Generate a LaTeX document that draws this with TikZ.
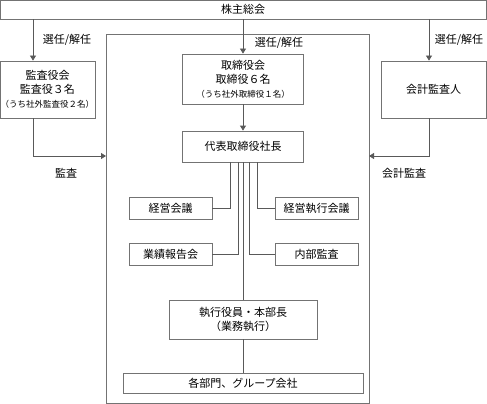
\documentclass[tikz,border=0pt]{standalone}
\usepackage{fontspec}
\setmainfont{Noto Sans CJK JP}
\usetikzlibrary{arrows.meta}

\begin{document}
\begin{tikzpicture}
  [x=1pt,y=-1pt,
   every node/.style={font=\fontsize{11}{14}\selectfont,align=center,inner sep=0pt},
   box/.style={draw=black!55,line width=0.8pt},
   line/.style={draw=black!65,line width=0.8pt},
   arr/.style={line,-{Triangle[length=5pt,width=6pt]}}]
  \useasboundingbox (0,0) rectangle (487,404);
  \node[box,minimum width=263,minimum height=369] (waku) at (237.5,218.5) {};
  \node[box,minimum width=486,minimum height=19] (kabu) at (243,9.5) {株主総会};
  \node[box,minimum width=95,minimum height=57] (kansa) at (47.5,89.5)
    {監査役会\\監査役３名\\{\fontsize{8.5}{10}\selectfont（うち社外監査役２名）}};
  \node[box,minimum width=105,minimum height=57] (kaikei) at (433.5,89.5) {会計監査人};
  \node[box,minimum width=121,minimum height=50] (tori) at (243,79)
    {取締役会\\取締役６名\\{\fontsize{8.5}{10}\selectfont（うち社外取締役１名）}};
  \node[box,minimum width=121,minimum height=31] (daihyo) at (243,146.5) {代表取締役社長};
  \node[box,minimum width=83,minimum height=22] (keiei) at (170.5,208) {経営会議};
  \node[box,minimum width=83,minimum height=22] (gyoseki) at (170.5,254.5) {業績報告会};
  \node[box,minimum width=83,minimum height=22] (kshikko) at (316.5,208) {経営執行会議};
  \node[box,minimum width=83,minimum height=22] (naibu) at (316.5,254.5) {内部監査};
  \node[box,minimum width=148,minimum height=39] (shikko) at (243,319.5)
    {執行役員・本部長\\（業務執行）};
  \node[box,minimum width=240,minimum height=20] (kakubu) at (243,383) {各部門、グループ会社};

  \coordinate (lx) at (33,0);
  \coordinate (rx) at (429,0);
  \coordinate (ka) at (106,156);
  \coordinate (kb) at (369,156);
  \coordinate (c1) at (230,0);
  \coordinate (c2) at (238,0);
  \coordinate (c4) at (249,0);
  \coordinate (c5) at (257,0);

  \draw[arr] (kabu.south -| lx) -- (kansa.north -| lx);
  \draw[arr] (kabu.south -| rx) -- (kaikei.north -| rx);
  \draw[arr] (kabu.south) -- (tori.north);
  \draw[arr] (tori) -- (daihyo);
  \draw[arr] (kansa.south -| lx) |- (ka);
  \draw[arr] (kaikei.south -| rx) |- (kb);
  \foreach \from/\to in {c1/keiei.east,c2/gyoseki.east,c4/naibu.west,c5/kshikko.west}
    \draw[line] (daihyo.south -| \from) |- (\to);
  \draw[line] (daihyo) -- (shikko);
  \draw[line] (shikko) -- (kakubu);

  \node (l1) at (67,40) {選任/解任};
  \node (l2) at (279,43) {選任/解任};
  \node (l3) at (459,40) {選任/解任};
  \node (l4) at (66,173) {監査};
  \node (l5) at (404,173) {会計監査};
\end{tikzpicture}
\end{document}
